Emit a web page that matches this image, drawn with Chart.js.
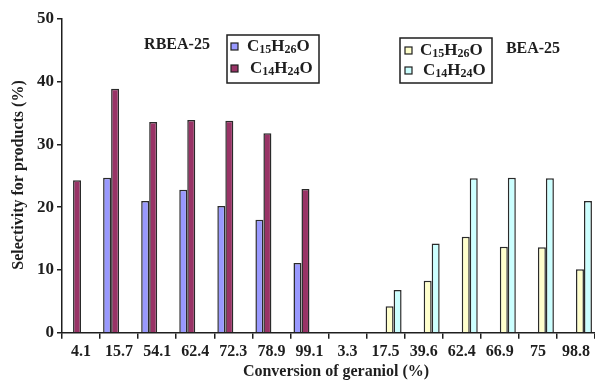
<!DOCTYPE html>
<html>
<head>
<meta charset="utf-8">
<script src="https://cdn.jsdelivr.net/npm/chart.js@4/dist/chart.umd.min.js"></script>
<style>
  html, body { margin: 0; padding: 0; background: #fff; }
  #wrap { width: 595px; height: 385px; }
</style>
</head>
<body>
<div id="wrap"><canvas id="selectivity" width="595" height="385"></canvas></div>
<script>
// conversion of geraniol (%) - first 7 runs on RBEA-25, last 7 on BEA-25
let conversion = ['4.1', '15.7', '54.1', '62.4', '72.3', '78.9', '99.1',
                  '3.3', '17.5', '39.6', '62.4', '66.9', '75', '98.8'];

// selectivity (%) per product and catalyst, null where there is no bar
let rbeaC15 = [null, 24.7, 21.0, 22.8, 20.2, 18.0, 11.1,
               null, null, null, null, null, null, null];
let rbeaC14 = [24.3, 38.9, 33.6, 33.9, 33.8, 31.8, 22.9,
               null, null, null, null, null, null, null];
let beaC15  = [null, null, null, null, null, null, null,
               null, 4.2, 8.3, 15.3, 13.7, 13.6, 10.1];
let beaC14  = [null, null, null, null, null, null, null,
               null, 6.8, 14.2, 24.6, 24.7, 24.6, 21.0];

let yTicks = [0, 10, 20, 30, 40, 50];

const ink = '#1e1e1e';
const serif = '"Liberation Serif", "Times New Roman", serif';

// writes a formula like C15H26O with the digits as subscripts
function drawFormula(ctx, txt, x, y) {
    let parts = txt.match(/[A-Za-z]+|\d+/g);
    parts.forEach(function (p) {
        if (/\d/.test(p)) {
            ctx.font = 'bold 12px ' + serif;
            ctx.fillText(p, x, y + 3);
        } else {
            ctx.font = 'bold 17px ' + serif;
            ctx.fillText(p, x, y);
        }
        x += ctx.measureText(p).width;
    });
}

function legendBox(ctx, chart, box, items) {
    ctx.save();
    ctx.strokeStyle = ink;
    ctx.lineWidth = 1.5;
    ctx.strokeRect(box.x, box.y, box.w, box.h);
    items.forEach(function (it) {
        let ds = chart.data.datasets[it.ds];
        ctx.fillStyle = ds.backgroundColor;
        ctx.fillRect(it.mx, it.y - 4, 7, 7);
        ctx.lineWidth = 1.2;
        ctx.strokeRect(it.mx, it.y - 4, 7, 7);
        ctx.fillStyle = ink;
        ctx.textBaseline = 'middle';
        ctx.textAlign = 'left';
        drawFormula(ctx, ds.label, it.tx, it.y);
    });
    ctx.restore();
}

const annotate = {
    id: 'annotate',
    afterDraw(chart) {
        let ctx = chart.ctx;
        ctx.save();
        ctx.fillStyle = ink;
        ctx.textAlign = 'center';
        ctx.textBaseline = 'middle';

        ctx.font = 'bold 16px ' + serif;
        ctx.fillText('RBEA-25', 177, 45);
        ctx.fillText('BEA-25', 533, 49);

        // axis titles
        ctx.font = 'bold 16px ' + serif;
        ctx.fillText('Conversion of geraniol (%)', 336, 372);
        ctx.translate(19, 175);
        ctx.rotate(-Math.PI / 2);
        ctx.fillText('Selectivity for products (%)', 0, 0);
        ctx.restore();

        legendBox(ctx, chart, {x: 227, y: 35, w: 92, h: 48}, [
            {ds: 0, mx: 231, tx: 247, y: 47},
            {ds: 1, mx: 231, tx: 250, y: 69}
        ]);
        legendBox(ctx, chart, {x: 400, y: 38, w: 92, h: 45}, [
            {ds: 2, mx: 405, tx: 420, y: 51},
            {ds: 3, mx: 405, tx: 423, y: 71}
        ]);
    }
};

let ctx = document.getElementById('selectivity').getContext('2d');

let selectivityChart = new Chart(ctx, {
    type: 'bar',
    data: {
        labels: conversion,
        datasets: [
            { label: 'C15H26O', data: rbeaC15, backgroundColor: '#9999FF' },
            { label: 'C14H24O', data: rbeaC14, backgroundColor: '#993366' },
            { label: 'C15H26O', data: beaC15,  backgroundColor: '#FFFFCC' },
            { label: 'C14H24O', data: beaC14,  backgroundColor: '#CCFFFF' }
        ]
    },
    options: {
        responsive: false,
        animation: false,
        layout: { padding: { top: 19, left: 0, right: 0, bottom: 0 } },
        datasets: {
            bar: {
                borderColor: '#2a2a2a',
                borderWidth: 1.5,
                categoryPercentage: 0.84,
                barPercentage: 1.0
            }
        },
        plugins: {
            legend: { display: false },
            tooltip: { enabled: false }
        },
        scales: {
            x: {
                grid: {
                    offset: true,
                    drawOnChartArea: false,
                    tickLength: 6,
                    color: ink,
                    lineWidth: 1.5
                },
                border: { color: ink, width: 1.5 },
                ticks: {
                    color: ink,
                    padding: 4,
                    maxRotation: 0,
                    autoSkip: false,
                    font: { family: serif, size: 16, weight: 'bold' }
                },
                afterFit: function (scale) { scale.height = 52.3; }
            },
            y: {
                min: yTicks[0],
                max: yTicks[yTicks.length - 1],
                afterBuildTicks: function (scale) {
                    scale.ticks = yTicks.map(function (v) { return { value: v }; });
                },
                grid: {
                    drawOnChartArea: false,
                    tickLength: 5,
                    color: ink,
                    lineWidth: 1.5
                },
                border: { color: ink, width: 1.5 },
                ticks: {
                    color: ink,
                    padding: 3,
                    font: { family: serif, size: 17, weight: 'bold' }
                },
                afterFit: function (scale) { scale.width = 62; }
            }
        }
    },
    plugins: [annotate]
});
</script>
</body>
</html>
